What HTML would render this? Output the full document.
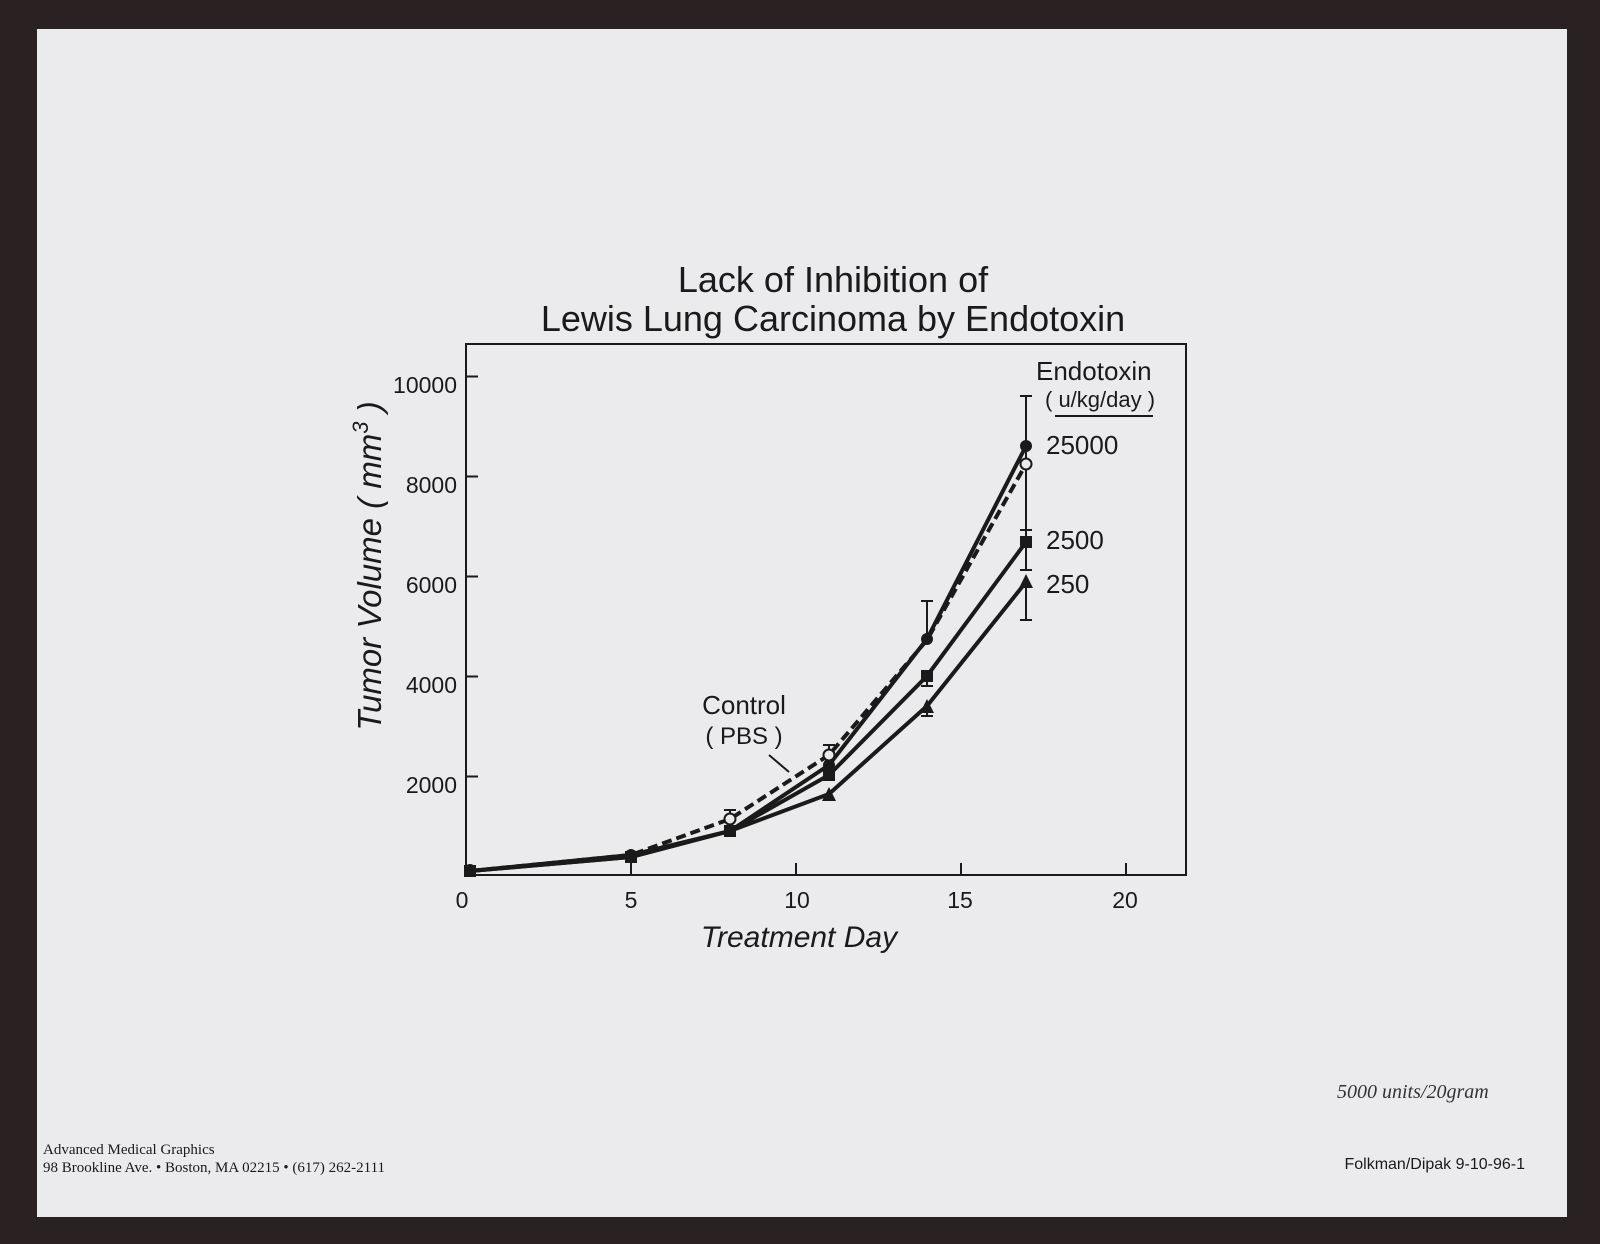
<!DOCTYPE html>
<html><head><meta charset="utf-8"><style>
html,body{margin:0;padding:0;width:1600px;height:1244px;background:#2a2222;overflow:hidden}
svg{display:block}
</style></head><body>
<svg width="1600" height="1244" viewBox="0 0 1600 1244" xmlns="http://www.w3.org/2000/svg" font-family="Liberation Sans, sans-serif">
<rect x="0" y="0" width="1600" height="1244" fill="#2a2222"/>
<rect x="37" y="29" width="1530" height="1188" fill="#ebebed"/>
<g fill="#1a1a1a" text-anchor="middle" font-size="36">
<text x="833" y="292">Lack of Inhibition of</text>
<text x="833" y="331">Lewis Lung Carcinoma by Endotoxin</text>
</g>
<rect x="466" y="344" width="720" height="531" fill="none" stroke="#1a1a1a" stroke-width="2"/>
<g stroke="#1a1a1a" stroke-width="2">
<line x1="466" y1="376.5" x2="478" y2="376.5"/><line x1="466" y1="476.5" x2="478" y2="476.5"/>
<line x1="466" y1="576.5" x2="478" y2="576.5"/><line x1="466" y1="676.5" x2="478" y2="676.5"/>
<line x1="466" y1="776.5" x2="478" y2="776.5"/>
<line x1="631" y1="875" x2="631" y2="863"/><line x1="796" y1="875" x2="796" y2="863"/>
<line x1="961" y1="875" x2="961" y2="863"/><line x1="1126" y1="875" x2="1126" y2="863"/>
</g>
<g fill="#1a1a1a" font-size="23" text-anchor="end">
<text x="457" y="393">10000</text><text x="457" y="493">8000</text><text x="457" y="593">6000</text>
<text x="457" y="693">4000</text><text x="457" y="793">2000</text>
</g>
<g fill="#1a1a1a" font-size="23" text-anchor="middle">
<text x="462" y="908">0</text><text x="631" y="908">5</text><text x="797" y="908">10</text>
<text x="960" y="908">15</text><text x="1125" y="908">20</text>
</g>
<text x="799" y="947" font-size="30" font-style="italic" text-anchor="middle" fill="#1a1a1a">Treatment Day</text>
<text transform="translate(381,566) rotate(-90)" font-size="33" font-style="italic" text-anchor="middle" fill="#1a1a1a">Tumor Volume ( mm<tspan dy="-13" font-size="22">3</tspan><tspan dy="13"> )</tspan></text>
<g fill="none" stroke="#1a1a1a" stroke-width="4" stroke-linejoin="round">
<polyline points="470,871 631,857 730,831 829,775 927,676 1026,542"/>
<polyline points="470,871 631,857 730,831 829,794 927,706 1026,582"/>
<polyline points="470,871 631,855 730,819 829,755 927,640 1026,464" stroke-dasharray="10,5"/>
<polyline points="470,871 631,855 730,831 829,765 927,639 1026,446"/>
</g>
<g stroke="#1a1a1a" stroke-width="2">
<line x1="1026" y1="396" x2="1026" y2="530"/><line x1="1020" y1="396" x2="1032" y2="396"/><line x1="1020" y1="530" x2="1032" y2="530"/>
<line x1="1026" y1="530" x2="1026" y2="570"/><line x1="1020" y1="570" x2="1032" y2="570"/>
<line x1="1026" y1="582" x2="1026" y2="620"/><line x1="1020" y1="620" x2="1032" y2="620"/>
<line x1="927" y1="601" x2="927" y2="640"/><line x1="921" y1="601" x2="933" y2="601"/>
<line x1="927" y1="676" x2="927" y2="686"/><line x1="921" y1="686" x2="933" y2="686"/>
<line x1="927" y1="706" x2="927" y2="716"/><line x1="921" y1="716" x2="933" y2="716"/>
<line x1="829" y1="745" x2="829" y2="755"/><line x1="823" y1="745" x2="835" y2="745"/>
<line x1="730" y1="810" x2="730" y2="819"/><line x1="724" y1="810" x2="736" y2="810"/>
<line x1="769" y1="755" x2="789" y2="772"/>
</g>
<g fill="#1a1a1a">
<circle cx="1026" cy="446" r="6"/><circle cx="927" cy="639" r="6"/><circle cx="829" cy="765" r="6"/><circle cx="631" cy="855" r="6"/><circle cx="470" cy="870" r="6"/>
<rect x="1020" y="536" width="12" height="12"/><rect x="921" y="670" width="12" height="12"/><rect x="823" y="769" width="12" height="12"/><rect x="724" y="825" width="12" height="12"/><rect x="625" y="851" width="12" height="12"/><rect x="464" y="865" width="12" height="12"/>
<polygon points="1026,574 1019,588 1033,588"/><polygon points="927,699 920,713 934,713"/><polygon points="829,787 822,801 836,801"/>
</g>
<g fill="#ebebed" stroke="#1a1a1a" stroke-width="2">
<circle cx="1026" cy="464" r="5.5"/><circle cx="829" cy="755" r="5.5"/><circle cx="730" cy="819" r="5.5"/>
</g>
<g fill="#1a1a1a" font-size="26">
<text x="1036" y="380">Endotoxin</text>
<text x="1045" y="407" font-size="22">( u/kg/day )</text>
<text x="1046" y="454">25000</text>
<text x="1046" y="549">2500</text>
<text x="1046" y="593">250</text>
<text x="744" y="714" text-anchor="middle">Control</text>
<text x="744" y="744" text-anchor="middle" font-size="24">( PBS )</text>
</g>
<line x1="1055" y1="416" x2="1153" y2="416" stroke="#1a1a1a" stroke-width="2"/>
<g fill="#1a1a1a" font-family="Liberation Serif, serif" font-size="15">
<text x="43" y="1154">Advanced Medical Graphics</text>
<text x="43" y="1172">98 Brookline Ave.  • Boston, MA  02215  •  (617) 262-2111</text>
</g>
<text x="1525" y="1169" text-anchor="end" font-size="16" fill="#1a1a1a">Folkman/Dipak 9-10-96-1</text>
<text x="1337" y="1098" font-family="Liberation Serif, serif" font-style="italic" font-size="20" fill="#333">5000 units/20gram</text>
</svg>
</body></html>
